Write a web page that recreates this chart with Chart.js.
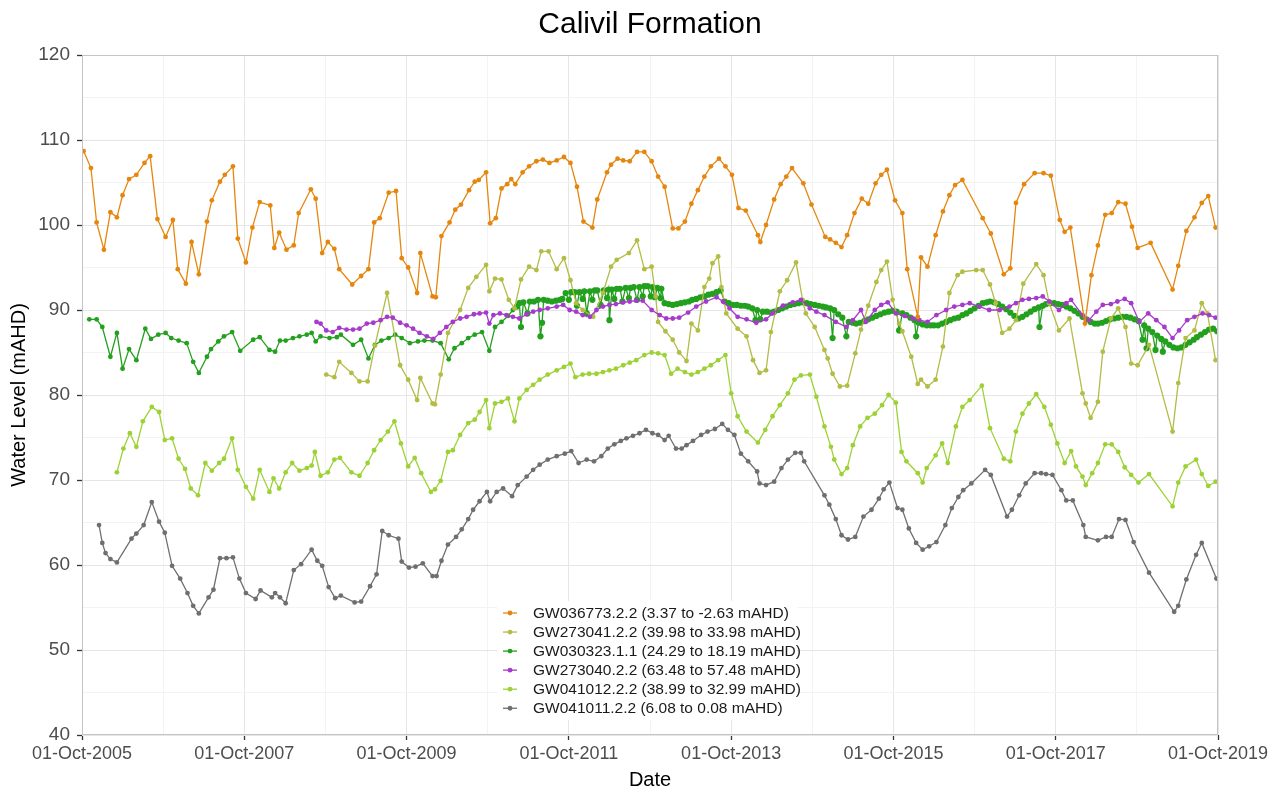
<!DOCTYPE html>
<html>
<head>
<meta charset="utf-8">
<title>Calivil Formation</title>
<script src="https://cdn.jsdelivr.net/npm/chart.js@4.4.1/dist/chart.umd.min.js"></script>
<style>
  html, body { margin: 0; padding: 0; background: #ffffff; }
  #wrap { position: relative; width: 1288px; height: 794px; }
</style>
</head>
<body>
<div id="wrap"><canvas id="chart" width="1288" height="794"></canvas></div>
<script>
// ---- Text ----
const chartTitle = 'Calivil Formation';
const xAxisTitle = 'Date';
const yAxisTitle = 'Water Level (mAHD)';

// ---- Axes (dates are decimal years; x.75 = 01-Oct) ----
const xGridYears = [2005.75, 2006.75, 2007.75, 2008.75, 2009.75, 2010.75, 2011.75, 2012.75,
                    2013.75, 2014.75, 2015.75, 2016.75, 2017.75, 2018.75, 2019.75];
const xTickYears = [2005.75, 2007.75, 2009.75, 2011.75, 2013.75, 2015.75, 2017.75, 2019.75];
const xTickLabels = ['01-Oct-2005', '01-Oct-2007', '01-Oct-2009', '01-Oct-2011',
                     '01-Oct-2013', '01-Oct-2015', '01-Oct-2017', '01-Oct-2019'];
const yMin = 40, yMax = 120, yGridStep = 5, yLabelStep = 10;

// ---- Series ----
const seriesNames = [
  'GW036773.2.2 (3.37 to -2.63 mAHD)',
  'GW273041.2.2 (39.98 to 33.98 mAHD)',
  'GW030323.1.1 (24.29 to 18.19 mAHD)',
  'GW273040.2.2 (63.48 to 57.48 mAHD)',
  'GW041012.2.2 (38.99 to 32.99 mAHD)',
  'GW041011.2.2 (6.08 to 0.08 mAHD)'
];
const seriesColors = ['#E5870F', '#B3BC45', '#22A01E', '#A63ACB', '#9DD236', '#6F6F6F'];
// higher number = drawn earlier (underneath)
const seriesDrawOrder = [0, 4, 5, 3, 2, 1];

// [decimal year, water level mAHD]
const gw036773 = [[2005.77,108.7],[2005.86,106.7],[2005.93,100.3],[2006.02,97.1],[2006.10,101.5],[2006.18,100.9],[2006.25,103.5],[2006.33,105.4],[2006.42,105.9],[2006.52,107.3],[2006.59,108.1],[2006.68,100.7],[2006.78,98.6],[2006.87,100.6],[2006.93,94.8],[2007.03,93.1],[2007.10,98.0],[2007.19,94.2],[2007.29,100.4],[2007.35,102.9],[2007.45,105.1],[2007.51,105.9],[2007.61,106.9],[2007.67,98.4],[2007.77,95.6],[2007.85,99.7],[2007.94,102.7],[2008.07,102.3],[2008.12,97.3],[2008.18,99.1],[2008.27,97.1],[2008.36,97.6],[2008.42,101.4],[2008.57,104.2],[2008.63,103.1],[2008.71,96.7],[2008.78,98.0],[2008.86,97.2],[2008.92,94.8],[2009.08,93.0],[2009.19,94.0],[2009.28,94.8],[2009.35,100.3],[2009.42,100.8],[2009.53,103.8],[2009.62,104.0],[2009.69,96.1],[2009.77,95.0],[2009.88,92.0],[2009.92,96.7],[2010.07,91.6],[2010.11,91.5],[2010.18,98.7],[2010.28,100.3],[2010.35,101.8],[2010.42,102.4],[2010.52,104.1],[2010.59,105.1],[2010.64,105.3],[2010.73,106.2],[2010.78,100.2],[2010.85,100.8],[2010.92,104.3],[2010.99,104.8],[2011.04,105.4],[2011.09,104.8],[2011.18,106.2],[2011.26,106.9],[2011.35,107.5],[2011.43,107.7],[2011.51,107.3],[2011.60,107.6],[2011.69,108.0],[2011.77,107.3],[2011.85,104.5],[2011.93,100.4],[2012.04,99.7],[2012.10,103.0],[2012.22,106.2],[2012.27,107.1],[2012.35,107.8],[2012.42,107.6],[2012.50,107.5],[2012.59,108.6],[2012.68,108.6],[2012.77,107.5],[2012.85,105.7],[2012.93,104.5],[2013.03,99.6],[2013.10,99.6],[2013.18,100.4],[2013.26,102.5],[2013.34,104.1],[2013.42,105.7],[2013.50,106.9],[2013.60,107.8],[2013.68,106.9],[2013.76,105.9],[2013.84,102.0],[2013.93,101.7],[2014.08,98.8],[2014.11,98.0],[2014.18,100.0],[2014.28,103.0],[2014.36,104.8],[2014.43,105.7],[2014.50,106.7],[2014.64,104.9],[2014.74,102.4],[2014.91,98.6],[2014.97,98.3],[2015.04,97.9],[2015.11,97.4],[2015.18,98.8],[2015.27,101.4],[2015.36,103.1],[2015.44,102.5],[2015.53,104.9],[2015.60,105.9],[2015.67,106.5],[2015.77,102.9],[2015.86,101.4],[2015.92,94.8],[2016.05,89.2],[2016.09,96.2],[2016.17,95.1],[2016.27,98.8],[2016.36,101.6],[2016.44,103.5],[2016.51,104.7],[2016.60,105.3],[2016.85,100.8],[2016.95,99.0],[2017.11,94.2],[2017.19,94.9],[2017.26,102.6],[2017.36,104.8],[2017.49,106.1],[2017.60,106.1],[2017.69,105.8],[2017.80,100.6],[2017.86,99.2],[2017.93,99.7],[2018.11,88.4],[2018.19,94.1],[2018.27,97.6],[2018.36,101.2],[2018.44,101.4],[2018.52,102.7],[2018.61,102.5],[2018.69,99.8],[2018.76,97.3],[2018.92,97.9],[2019.19,92.4],[2019.26,95.2],[2019.36,99.3],[2019.46,100.9],[2019.55,102.6],[2019.63,103.4],[2019.72,99.7]];

const gw273041 = [[2008.76,82.4],[2008.86,82.1],[2008.92,83.9],[2009.07,82.6],[2009.17,81.6],[2009.27,81.6],[2009.36,85.8],[2009.51,92.0],[2009.67,83.5],[2009.77,81.8],[2009.88,79.4],[2009.92,82.0],[2010.07,79.0],[2010.10,78.9],[2010.17,82.4],[2010.26,87.3],[2010.41,90.0],[2010.51,92.6],[2010.61,93.9],[2010.73,95.3],[2010.77,92.2],[2010.84,93.7],[2010.92,93.6],[2011.01,91.2],[2011.08,90.2],[2011.16,93.6],[2011.26,95.1],[2011.35,94.7],[2011.41,96.9],[2011.50,96.9],[2011.60,94.8],[2011.69,96.1],[2011.77,93.5],[2011.84,90.8],[2011.92,90.0],[2012.05,89.2],[2012.17,92.0],[2012.27,95.1],[2012.34,95.9],[2012.49,96.7],[2012.59,98.2],[2012.68,94.8],[2012.77,95.1],[2012.82,91.6],[2012.85,88.6],[2012.94,87.5],[2013.03,86.5],[2013.11,85.0],[2013.20,84.0],[2013.26,88.4],[2013.34,87.6],[2013.42,92.7],[2013.48,93.7],[2013.52,95.5],[2013.59,96.3],[2013.63,92.7],[2013.69,89.6],[2013.83,87.8],[2013.94,86.9],[2014.02,84.1],[2014.10,82.6],[2014.18,82.9],[2014.24,87.4],[2014.35,92.2],[2014.44,93.5],[2014.55,95.6],[2014.63,91.2],[2014.67,89.6],[2014.78,88.0],[2014.90,85.3],[2014.94,84.3],[2015.00,82.5],[2015.09,81.0],[2015.18,81.1],[2015.28,84.9],[2015.35,87.7],[2015.44,90.5],[2015.54,93.3],[2015.60,94.7],[2015.67,95.7],[2015.74,91.2],[2015.82,88.4],[2015.86,87.5],[2015.97,84.5],[2016.05,81.3],[2016.09,81.8],[2016.17,81.0],[2016.27,81.8],[2016.36,85.7],[2016.44,92.0],[2016.54,94.1],[2016.60,94.5],[2016.77,94.7],[2016.85,94.7],[2016.94,93.0],[2017.01,90.8],[2017.09,87.3],[2017.18,87.8],[2017.26,88.8],[2017.35,93.1],[2017.51,95.4],[2017.60,94.1],[2017.67,90.8],[2017.79,87.6],[2017.92,89.0],[2018.08,80.2],[2018.12,79.0],[2018.18,77.3],[2018.27,79.2],[2018.33,85.1],[2018.43,89.0],[2018.52,90.2],[2018.61,88.0],[2018.68,83.7],[2018.76,83.5],[2018.90,85.9],[2019.19,75.7],[2019.26,81.4],[2019.35,86.7],[2019.46,87.6],[2019.55,90.8],[2019.62,89.6],[2019.72,84.1]];

const gw030323 = [[2005.84,88.9],[2005.93,88.9],[2006.00,88.0],[2006.10,84.5],[2006.18,87.3],[2006.25,83.1],[2006.33,85.4],[2006.42,84.1],[2006.53,87.8],[2006.60,86.6],[2006.69,87.1],[2006.78,87.3],[2006.85,86.7],[2006.94,86.4],[2007.04,86.1],[2007.12,83.9],[2007.19,82.6],[2007.29,84.5],[2007.34,85.4],[2007.43,86.3],[2007.50,86.9],[2007.60,87.4],[2007.70,85.2],[2007.86,86.5],[2007.94,86.8],[2008.06,85.3],[2008.13,85.1],[2008.19,86.4],[2008.26,86.4],[2008.35,86.7],[2008.43,86.9],[2008.52,87.1],[2008.58,87.3],[2008.63,86.3],[2008.69,86.9],[2008.80,86.7],[2008.89,86.8],[2008.94,87.1],[2009.09,85.9],[2009.19,86.5],[2009.28,84.3],[2009.36,85.9],[2009.44,86.4],[2009.53,86.7],[2009.61,87.1],[2009.69,86.7],[2009.79,86.1],[2009.89,86.3],[2009.97,86.4],[2010.07,86.4],[2010.17,86.1],[2010.27,84.2],[2010.34,85.5],[2010.43,86.1],[2010.51,86.7],[2010.59,87.1],[2010.68,87.4],[2010.77,85.2],[2010.84,88.0],[2010.92,88.6],[2011.00,89.3],[2011.06,90.0],
  [2011.11,90.4],[2011.14,90.8],[2011.16,88.0],[2011.19,90.9],[2011.24,89.6],[2011.27,91.0],[2011.32,91.0],[2011.37,91.2],[2011.40,86.9],[2011.42,88.5],[2011.44,91.2],[2011.49,91.1],[2011.54,91.0],[2011.59,91.1],[2011.64,91.2],[2011.67,91.3],[2011.71,92.0],[2011.75,91.2],[2011.78,92.1],[2011.82,92.1],[2011.85,90.5],[2011.88,92.1],[2011.92,91.3],[2011.94,92.2],[2011.97,89.6],[2012.01,92.2],[2012.04,91.2],[2012.07,92.3],[2012.10,92.3],[2012.14,90.6],[2012.18,92.3],[2012.22,91.4],[2012.24,92.4],[2012.25,88.8],[2012.28,92.4],[2012.31,91.3],[2012.34,92.5],[2012.38,92.5],[2012.41,91.0],[2012.45,92.6],[2012.49,91.4],[2012.51,92.6],[2012.55,92.7],[2012.59,91.2],[2012.62,92.7],[2012.66,91.6],[2012.68,92.8],[2012.72,92.8],[2012.76,91.6],[2012.78,92.7],[2012.81,91.5],[2012.84,92.6],[2012.88,91.4],[2012.89,92.5],[2012.93,90.8],[2012.98,90.7],[2013.03,90.6],[2013.08,90.7],[2013.13,90.8],[2013.18,90.9],[2013.23,91.0],[2013.27,91.2],[2013.32,91.3],[2013.37,91.5],[2013.42,91.6],[2013.47,91.8],[2013.52,91.9],[2013.57,92.1],[2013.62,92.3],[2013.67,91.0],[2013.72,90.8],[2013.77,90.6],[2013.82,90.6],[2013.87,90.5],[2013.92,90.5],[2013.96,90.4],[2014.01,90.2],[2014.05,88.8],[2014.07,90.0],[2014.11,88.9],[2014.14,89.8],[2014.19,89.8],[2014.24,89.7],[2014.28,89.8],[2014.33,90.0],[2014.38,90.2],[2014.43,90.4],[2014.48,90.6],[2014.53,90.7],[2014.58,90.8],[2014.63,90.9],[2014.68,90.8],[2014.73,90.7],[2014.78,90.6],[2014.83,90.5],[2014.88,90.4],[2014.92,90.3],[2014.97,90.2],[2015.00,86.7],[2015.02,90.0],[2015.07,89.5],[2015.12,89.1],[2015.17,86.9],[2015.20,88.6],[2015.25,88.5],[2015.29,88.4],[2015.34,88.5],[2015.39,88.7],[2015.44,88.9],[2015.49,89.1],[2015.54,89.3],[2015.59,89.5],[2015.64,89.7],[2015.69,89.8],[2015.74,89.9],[2015.79,89.8],[2015.82,87.6],[2015.86,89.6],[2015.91,89.4],[2015.96,89.1],[2016.01,88.8],[2016.03,86.9],[2016.06,88.5],[2016.11,88.3],[2016.16,88.2],[2016.21,88.2],[2016.25,88.2],[2016.30,88.2],[2016.35,88.4],[2016.40,88.6],[2016.45,88.8],[2016.50,89.0],[2016.55,89.1],[2016.60,89.4],[2016.65,89.6],[2016.70,89.9],[2016.75,90.2],[2016.80,90.5],[2016.85,90.8],[2016.90,90.9],[2016.94,91.0],[2016.99,90.9],[2017.04,90.7],[2017.09,90.4],[2017.14,90.1],[2017.19,89.7],[2017.24,89.3],[2017.29,89.0],[2017.34,89.2],[2017.39,89.5],[2017.44,89.8],[2017.49,90.1],[2017.54,90.3],[2017.55,88.0],[2017.59,90.5],[2017.63,90.7],[2017.68,90.8],[2017.73,90.8],[2017.78,90.7],[2017.83,90.6],[2017.88,90.4],[2017.93,90.2],[2017.98,89.9],[2018.03,89.6],[2018.08,89.2],[2018.13,88.9],[2018.18,88.6],[2018.23,88.4],[2018.27,88.4],[2018.32,88.5],[2018.37,88.7],[2018.42,88.9],[2018.47,89.0],[2018.52,89.1],[2018.57,89.2],[2018.62,89.2],[2018.67,89.1],[2018.72,88.9],[2018.77,88.7],[2018.82,86.5],[2018.84,88.2],[2018.87,85.5],[2018.89,87.8],[2018.94,87.4],[2018.98,85.3],[2019.00,87.0],[2019.05,86.6],[2019.07,85.1],[2019.10,86.3],[2019.15,85.9],[2019.20,85.6],[2019.25,85.5],[2019.30,85.6],[2019.35,85.9],[2019.40,86.2],[2019.45,86.5],[2019.49,86.8],[2019.54,87.1],[2019.59,87.4],[2019.64,87.7],[2019.69,87.8],[2019.74,87.5]];

const gw273040 = [[2008.64,88.6],[2008.69,88.4],[2008.76,87.6],[2008.84,87.4],[2008.92,87.9],[2009.01,87.7],[2009.09,87.7],[2009.17,87.8],[2009.26,88.4],[2009.34,88.5],[2009.43,88.8],[2009.51,89.2],[2009.58,89.1],[2009.67,88.5],[2009.75,88.2],[2009.83,87.8],[2009.91,87.3],[2010.00,86.9],[2010.08,86.6],[2010.16,87.3],[2010.24,88.0],[2010.32,88.6],[2010.41,89.0],[2010.49,89.2],[2010.58,89.5],[2010.65,89.6],[2010.73,89.7],[2010.77,88.4],[2010.82,89.4],[2010.90,89.6],[2010.98,89.4],[2011.06,89.2],[2011.14,89.0],[2011.23,89.5],[2011.31,89.8],[2011.39,90.0],[2011.49,90.2],[2011.60,90.4],[2011.68,90.6],[2011.76,90.0],[2011.84,89.8],[2011.92,89.4],[2012.01,89.2],[2012.09,90.0],[2012.17,90.4],[2012.25,90.6],[2012.33,90.7],[2012.42,90.9],[2012.50,91.0],[2012.58,91.1],[2012.66,91.1],[2012.77,90.0],[2012.87,89.4],[2012.95,89.0],[2013.03,89.0],[2013.11,89.1],[2013.22,89.7],[2013.32,90.4],[2013.44,91.0],[2013.57,91.5],[2013.65,91.0],[2013.73,90.2],[2013.83,89.2],[2013.94,88.9],[2014.06,88.5],[2014.18,88.9],[2014.26,89.6],[2014.39,90.5],[2014.51,90.9],[2014.61,91.2],[2014.72,90.2],[2014.80,89.8],[2014.90,89.4],[2015.04,88.6],[2015.17,88.0],[2015.25,88.8],[2015.35,90.0],[2015.41,88.6],[2015.52,90.0],[2015.60,90.6],[2015.68,90.9],[2015.78,89.6],[2015.89,89.3],[2015.99,89.0],[2016.07,88.8],[2016.17,88.6],[2016.28,89.4],[2016.40,90.0],[2016.50,90.4],[2016.60,90.6],[2016.69,90.8],[2016.81,90.4],[2016.93,90.0],[2017.06,90.0],[2017.18,90.4],[2017.26,90.8],[2017.34,91.2],[2017.42,91.3],[2017.51,91.4],[2017.59,91.6],[2017.67,91.0],[2017.79,90.0],[2017.88,90.8],[2017.94,91.2],[2018.08,89.4],[2018.16,88.8],[2018.25,89.8],[2018.33,90.6],[2018.43,90.7],[2018.51,91.0],[2018.60,91.3],[2018.68,90.8],[2018.78,88.6],[2018.89,89.6],[2018.99,88.8],[2019.09,88.0],[2019.19,86.7],[2019.27,87.6],[2019.37,88.8],[2019.46,89.2],[2019.56,89.6],[2019.64,89.4],[2019.72,89.1]];

const gw041012 = [[2006.18,70.9],[2006.26,73.7],[2006.34,75.5],[2006.42,73.9],[2006.50,76.9],[2006.61,78.6],[2006.70,78.0],[2006.77,74.7],[2006.86,74.9],[2006.94,72.5],[2007.02,71.3],[2007.09,69.0],[2007.18,68.2],[2007.27,72.0],[2007.35,71.1],[2007.44,72.0],[2007.50,72.5],[2007.60,74.9],[2007.67,71.2],[2007.77,69.2],[2007.86,67.8],[2007.94,71.2],[2008.06,68.6],[2008.11,70.2],[2008.18,69.0],[2008.26,70.9],[2008.34,72.0],[2008.43,71.1],[2008.52,71.4],[2008.58,71.7],[2008.62,73.3],[2008.69,70.5],[2008.78,70.9],[2008.86,72.4],[2008.93,72.6],[2009.07,70.9],[2009.17,70.5],[2009.27,72.0],[2009.35,73.5],[2009.43,74.7],[2009.52,75.7],[2009.60,76.9],[2009.68,74.3],[2009.77,71.6],[2009.85,72.6],[2009.93,70.8],[2010.05,68.6],[2010.10,68.9],[2010.17,69.9],[2010.26,73.3],[2010.32,73.5],[2010.41,75.3],[2010.51,76.7],[2010.59,77.1],[2010.65,78.0],[2010.73,79.4],[2010.77,76.1],[2010.84,79.0],[2010.92,79.2],[2011.00,79.6],[2011.08,76.9],[2011.14,79.6],[2011.23,80.6],[2011.31,81.2],[2011.39,81.8],[2011.49,82.4],[2011.60,82.9],[2011.69,83.3],[2011.77,83.7],[2011.83,82.1],[2011.92,82.4],[2012.00,82.5],[2012.09,82.5],[2012.17,82.7],[2012.25,82.9],[2012.33,83.1],[2012.42,83.5],[2012.50,83.8],[2012.58,84.1],[2012.68,84.7],[2012.77,85.0],[2012.85,84.9],[2012.93,84.7],[2013.01,82.5],[2013.09,83.1],[2013.18,82.7],[2013.26,82.4],[2013.34,82.7],[2013.42,83.1],[2013.50,83.5],[2013.59,84.1],[2013.68,84.7],[2013.75,80.2],[2013.83,77.5],[2013.94,75.7],[2014.08,74.4],[2014.17,75.9],[2014.26,77.5],[2014.35,78.8],[2014.45,80.2],[2014.53,81.8],[2014.61,82.3],[2014.72,82.4],[2014.80,79.8],[2014.90,76.3],[2014.98,73.9],[2015.02,72.4],[2015.11,70.7],[2015.18,71.4],[2015.25,74.1],[2015.34,76.3],[2015.43,77.3],[2015.52,77.8],[2015.61,78.8],[2015.69,80.0],[2015.78,79.1],[2015.85,73.3],[2015.91,72.2],[2016.05,70.8],[2016.11,69.7],[2016.16,71.4],[2016.27,72.9],[2016.35,74.3],[2016.42,72.0],[2016.52,76.3],[2016.60,78.6],[2016.69,79.4],[2016.84,81.1],[2016.94,76.1],[2017.11,72.5],[2017.19,72.2],[2017.26,75.7],[2017.34,77.8],[2017.42,79.0],[2017.51,80.1],[2017.61,78.6],[2017.69,76.5],[2017.77,74.3],[2017.86,72.0],[2017.94,73.4],[2018.00,71.6],[2018.08,70.4],[2018.12,69.4],[2018.20,70.8],[2018.27,72.0],[2018.36,74.2],[2018.44,74.2],[2018.52,73.3],[2018.60,71.5],[2018.68,70.6],[2018.77,69.7],[2018.90,70.7],[2019.19,66.9],[2019.26,69.7],[2019.35,71.6],[2019.48,72.4],[2019.55,70.7],[2019.63,69.3],[2019.72,69.8]];

const gw041011 = [[2005.96,64.7],[2006.00,62.6],[2006.04,61.4],[2006.10,60.7],[2006.18,60.3],[2006.36,63.1],[2006.42,63.7],[2006.51,64.7],[2006.61,67.4],[2006.70,65.1],[2006.77,63.8],[2006.86,59.9],[2006.96,58.4],[2007.05,56.7],[2007.12,55.2],[2007.19,54.3],[2007.31,56.2],[2007.37,57.1],[2007.45,60.8],[2007.53,60.8],[2007.61,60.9],[2007.69,58.4],[2007.77,56.7],[2007.89,56.0],[2007.95,57.0],[2008.09,56.2],[2008.13,56.7],[2008.19,56.2],[2008.26,55.5],[2008.36,59.4],[2008.45,60.1],[2008.58,61.8],[2008.65,60.5],[2008.71,59.9],[2008.79,57.4],[2008.87,56.1],[2008.94,56.4],[2009.11,55.6],[2009.19,55.7],[2009.30,57.5],[2009.38,58.9],[2009.45,64.0],[2009.53,63.5],[2009.65,63.1],[2009.69,60.4],[2009.78,59.7],[2009.86,59.8],[2009.95,60.2],[2010.07,58.7],[2010.12,58.7],[2010.18,60.5],[2010.26,62.4],[2010.36,63.3],[2010.43,64.2],[2010.51,65.4],[2010.57,66.5],[2010.65,67.5],[2010.74,68.6],[2010.78,67.5],[2010.86,68.6],[2010.94,69.0],[2011.05,68.1],[2011.12,69.4],[2011.23,70.4],[2011.31,71.2],[2011.39,71.8],[2011.49,72.4],[2011.60,72.8],[2011.70,73.1],[2011.78,73.4],[2011.87,72.0],[2011.97,72.4],[2012.06,72.2],[2012.15,72.8],[2012.23,73.7],[2012.31,74.2],[2012.39,74.6],[2012.46,74.9],[2012.54,75.2],[2012.62,75.5],[2012.70,75.9],[2012.78,75.5],[2012.85,75.3],[2012.93,74.7],[2012.98,75.2],[2013.07,73.7],[2013.14,73.7],[2013.20,74.1],[2013.28,74.6],[2013.38,75.3],[2013.46,75.7],[2013.55,76.0],[2013.64,76.6],[2013.71,75.9],[2013.79,75.3],[2013.87,73.1],[2013.96,72.2],[2014.07,71.0],[2014.10,69.6],[2014.18,69.4],[2014.28,69.8],[2014.37,71.4],[2014.45,72.4],[2014.54,73.2],[2014.61,73.2],[2014.65,72.2],[2014.90,68.2],[2014.96,67.1],[2015.04,65.4],[2015.11,63.5],[2015.19,63.0],[2015.28,63.3],[2015.38,65.7],[2015.48,66.5],[2015.57,67.8],[2015.63,68.9],[2015.70,69.7],[2015.80,66.7],[2015.86,66.5],[2015.94,64.3],[2016.03,62.6],[2016.11,61.8],[2016.19,62.2],[2016.28,62.7],[2016.39,64.7],[2016.47,66.7],[2016.55,68.0],[2016.61,68.8],[2016.71,69.6],[2016.88,71.2],[2016.95,70.6],[2017.15,65.7],[2017.21,66.5],[2017.30,68.2],[2017.38,69.6],[2017.49,70.8],[2017.57,70.8],[2017.63,70.7],[2017.71,70.6],[2017.82,68.8],[2017.88,67.6],[2017.96,67.6],[2018.09,64.7],[2018.12,63.3],[2018.27,62.9],[2018.37,63.3],[2018.44,63.3],[2018.53,65.4],[2018.61,65.3],[2018.71,62.7],[2018.90,59.1],[2019.21,54.5],[2019.26,55.2],[2019.36,58.3],[2019.48,61.2],[2019.55,62.6],[2019.73,58.4]];

const seriesData = [gw036773, gw273041, gw030323, gw273040, gw041012, gw041011];

// ---- Styling ----
const FONT = "'Liberation Sans', Arial, Helvetica, sans-serif";
const AXIS_TEXT = '#4d4d4d';
const GRID_MAJOR = '#e6e6e6';
const GRID_MINOR = '#f3f3f3';
const PANEL_BORDER = '#c4c4c4';

Chart.defaults.font.family = FONT;

const isLabelledYear = v => xTickYears.some(t => Math.abs(t - v) < 1e-6);
const xLabelFor = v => {
  const i = xTickYears.findIndex(t => Math.abs(t - v) < 1e-6);
  return i >= 0 ? xTickLabels[i] : '';
};
const isLabelledLevel = v => Math.abs(v % yLabelStep) < 1e-6;

// Frame around the plotting panel
const panelBorder = {
  id: 'panelBorder',
  afterDatasetsDraw(chart) {
    const { ctx, chartArea: a } = chart;
    ctx.save();
    ctx.strokeStyle = PANEL_BORDER;
    ctx.lineWidth = 1;
    ctx.strokeRect(Math.round(a.left) + 0.5, Math.round(a.top) + 0.5,
                   Math.round(a.right - a.left) - 1, Math.round(a.bottom - a.top) - 1);
    ctx.restore();
  }
};

// Key placed inside the panel, bottom centre
const insetLegend = {
  id: 'insetLegend',
  afterDraw(chart) {
    const { ctx, chartArea: a } = chart;
    const x0 = a.left + 421;
    const y0 = a.bottom - 122;
    const step = 19.05;
    ctx.save();
    ctx.fillStyle = '#ffffff';
    ctx.fillRect(x0 - 6, y0 - 12, 300, step * (seriesNames.length - 1) + 24);
    ctx.font = `15.5px ${FONT}`;
    ctx.textBaseline = 'middle';
    ctx.textAlign = 'left';
    seriesNames.forEach((name, i) => {
      const y = y0 + i * step;
      ctx.strokeStyle = seriesColors[i];
      ctx.lineWidth = 1.3;
      ctx.beginPath();
      ctx.moveTo(x0, y);
      ctx.lineTo(x0 + 14, y);
      ctx.stroke();
      ctx.fillStyle = seriesColors[i];
      ctx.beginPath();
      ctx.arc(x0 + 7, y, 2.4, 0, Math.PI * 2);
      ctx.fill();
      ctx.fillStyle = '#1a1a1a';
      ctx.fillText(name, x0 + 30, y + 0.5);
    });
    ctx.restore();
  }
};

const datasets = seriesData.map((rows, i) => ({
  label: seriesNames[i],
  data: rows.map(([x, y]) => ({ x, y })),
  borderColor: seriesColors[i],
  backgroundColor: seriesColors[i],
  pointBackgroundColor: seriesColors[i],
  borderWidth: 1.3,
  pointRadius: i === 2 ? (ctx => (ctx.raw && ctx.raw.x > 2011.1 ? 3.1 : 2.4)) : 2.4,
  pointBorderWidth: 0,
  pointHoverRadius: 2.4,
  tension: 0,
  order: seriesDrawOrder[i]
}));

new Chart(document.getElementById('chart'), {
  type: 'line',
  data: { datasets },
  options: {
    responsive: false,
    animation: false,
    devicePixelRatio: 1,
    events: [],
    layout: { padding: { left: 12, right: 0, top: 0, bottom: 0 } },
    plugins: {
      legend: { display: false },
      tooltip: { enabled: false },
      title: {
        display: true,
        text: chartTitle,
        color: '#000000',
        font: { size: 30, weight: 'normal', family: FONT },
        padding: { top: 7, bottom: 12 }
      }
    },
    scales: {
      x: {
        type: 'linear',
        min: xGridYears[0],
        max: xGridYears[xGridYears.length - 1],
        afterBuildTicks: s => { s.ticks = xGridYears.map(v => ({ value: v })); },
        afterFit: s => { s.height = 59; s.paddingRight = 70; s.paddingLeft = 0; },
        ticks: {
          autoSkip: false,
          maxRotation: 0,
          minRotation: 0,
          padding: 3,
          color: AXIS_TEXT,
          font: { size: 18 },
          callback: v => xLabelFor(v)
        },
        grid: {
          color: c => (c.tick && isLabelledYear(c.tick.value) ? GRID_MAJOR : GRID_MINOR),
          lineWidth: 1,
          tickLength: 5,
          tickWidth: 1.3,
          tickColor: c => (c.tick && isLabelledYear(c.tick.value) ? '#333333' : 'rgba(0,0,0,0)')
        },
        border: { display: false },
        title: {
          display: true,
          text: xAxisTitle,
          color: '#000000',
          font: { size: 20 },
          padding: { top: 0, bottom: 2 }
        }
      },
      y: {
        type: 'linear',
        min: yMin,
        max: yMax,
        afterFit: s => { s.width = 70; },
        ticks: {
          stepSize: yGridStep,
          autoSkip: false,
          padding: 7,
          color: AXIS_TEXT,
          font: { size: 19 },
          callback: v => (isLabelledLevel(v) ? String(v) : '')
        },
        grid: {
          color: c => (c.tick && isLabelledLevel(c.tick.value) ? GRID_MAJOR : GRID_MINOR),
          lineWidth: 1,
          tickLength: 5,
          tickWidth: 1.3,
          tickColor: c => (c.tick && isLabelledLevel(c.tick.value) ? '#333333' : 'rgba(0,0,0,0)')
        },
        border: { display: false },
        title: {
          display: true,
          text: yAxisTitle,
          color: '#000000',
          font: { size: 20 },
          padding: { top: -5, bottom: 0 }
        }
      }
    }
  },
  plugins: [panelBorder, insetLegend]
});
</script>
</body>
</html>
